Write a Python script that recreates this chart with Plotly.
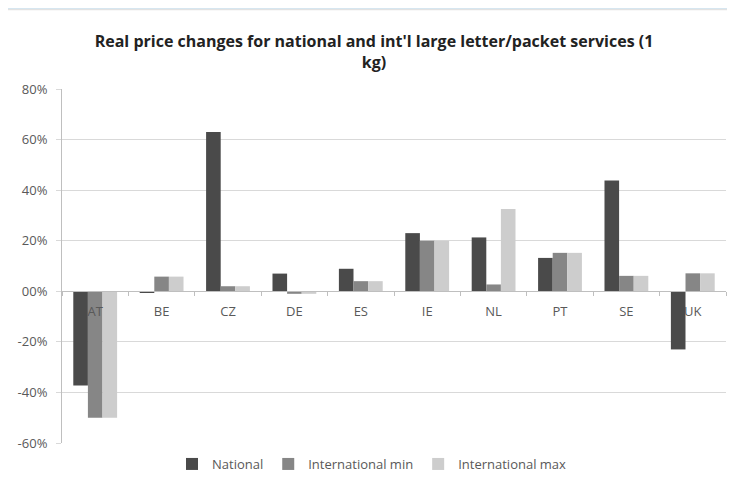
import plotly.graph_objects as go

countries = ["AT", "BE", "CZ", "DE", "ES", "IE", "NL", "PT", "SE", "UK"]
national = [-37.3, -0.3, 63.0, 7.0, 8.9, 23.0, 21.3, 13.2, 43.8, -23.0]
intl_min = [-50.0, 5.8, 2.0, -1.0, 4.0, 20.0, 2.7, 15.2, 6.1, 7.1]
intl_max = [-50.0, 5.8, 2.0, -1.0, 4.0, 20.0, 32.5, 15.2, 6.1, 7.1]
ytick_vals = [-60, -40, -20, 0, 20, 40, 60, 80]
ytick_text = ["-60%", "-40%", "-20%", "00%", "20%", "40%", "60%", "80%"]

FONT = "Open Sans"
TXT = "#595959"

fig = go.Figure()
for name, vals, col in [("National", national, "#4a4a4a"),
                        ("International min", intl_min, "#868686"),
                        ("International max", intl_max, "#cdcdcd")]:
    fig.add_trace(go.Bar(x=countries, y=vals, name=name,
                         marker=dict(color=col, line=dict(width=0))))

# The page body adds an 8px offset, so the figure is sized to fit the window.
W, H = 719, 465
L, R, T, B = 54, 1, 81, 30
pw, ph = W - L - R, H - T - B

def px_x(p):
    return (p - L) / pw

def px_y(p):
    return (H - B - p) / ph

fig.update_layout(
    width=W, height=H,
    margin=dict(l=L, r=R, t=T, b=B, autoexpand=False),
    paper_bgcolor="white",
    plot_bgcolor="white",
    barmode="group", bargap=0.34, bargroupgap=0,
    font=dict(family=FONT, size=13, color=TXT),
    title=dict(text="<b>Real price changes for national and int'l large letter/packet services (1<br>kg)</b>",
               x=366 / W, xanchor="center", xref="container",
               y=1 - 39 / H, yanchor="top", yref="container",
               font=dict(family=FONT, size=16, color="#222222")),
    showlegend=True,
    legend=dict(orientation="h", x=364 / W, xanchor="center", xref="container",
                y=1 - 456 / H, yanchor="middle", yref="container",
                font=dict(family=FONT, size=13, color=TXT),
                tracegroupgap=0, itemwidth=30,
                bgcolor="rgba(0,0,0,0)", traceorder="normal"),
    xaxis=dict(type="category", anchor="free", position=60 / 140,
               showline=True, linecolor="#bfbfbf", linewidth=1,
               ticks="outside", tickson="boundaries", ticklen=4, tickcolor="#bfbfbf",
               showgrid=False, tickfont=dict(family=FONT, size=13, color=TXT),
               ticklabelstandoff=8, layer="above traces", automargin=False),
    yaxis=dict(range=[-60, 80], tickvals=ytick_vals, ticktext=ytick_text,
               showgrid=True, gridcolor="#d9d9d9", gridwidth=1,
               zeroline=False, showline=True, linecolor="#bfbfbf",
               ticks="outside", ticklen=5, tickcolor="#d9d9d9",
               ticklabelstandoff=6,
               tickfont=dict(family=FONT, size=13, color=TXT), automargin=False),
    shapes=[
        dict(type="rect", xref="paper", yref="paper", layer="below",
             x0=px_x(0), x1=px_x(W), y0=px_y(1), y1=px_y(0),
             fillcolor="#d6e6f0", line=dict(width=0)),
        dict(type="line", xref="paper", yref="paper", layer="below",
             x0=px_x(0), x1=px_x(W), y0=px_y(1.6), y1=px_y(1.6),
             line=dict(color="#e2e2e2", width=1.2)),
    ],
)

fig.write_html("out.html")
